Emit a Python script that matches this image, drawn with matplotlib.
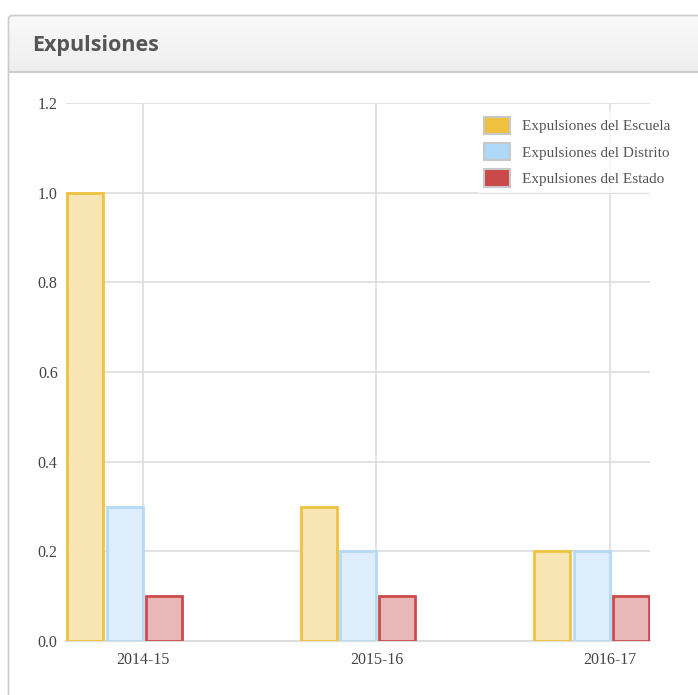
import matplotlib
matplotlib.use("Agg")
import matplotlib.pyplot as plt
from matplotlib.patches import Rectangle, FancyBboxPatch
import numpy as np

categories = ["2014-15", "2015-16", "2016-17"]
series_names = ["Expulsiones del Escuela", "Expulsiones del Distrito", "Expulsiones del Estado"]
escuela = [1.0, 0.3, 0.2]
distrito = [0.3, 0.2, 0.2]
estado = [0.1, 0.1, 0.1]
yticks = [0.0, 0.2, 0.4, 0.6, 0.8, 1.0, 1.2]

fills = ["#F7E6B3", "#DDEDFB", "#E9B7B8"]
edges = ["#EFC340", "#B5DAF6", "#CC4C4C"]
solid = ["#EFC13F", "#AED8F7", "#CC4949"]

W, H = 698, 695
fig = plt.figure(figsize=(W / 100, H / 100), dpi=100)
fig.patch.set_facecolor("white")

# panel
panel_ax = fig.add_axes([0, 0, 1, 1])
panel_ax.set_xlim(0, W)
panel_ax.set_ylim(H, 0)
panel_ax.axis("off")
grad = np.linspace(0, 1, 64).reshape(-1, 1)
panel_ax.imshow(grad, extent=[9, W + 5, 72, 16],
                cmap=matplotlib.colors.LinearSegmentedColormap.from_list("g", ["#FAFAFA", "#EEEEEE"]),
                aspect="auto", zorder=1)
panel_ax.add_patch(FancyBboxPatch((8.5, 15.5), W + 20, H + 20, boxstyle="round,pad=0,rounding_size=4",
                                  facecolor="none", edgecolor="#CCCCCC", lw=1.2, zorder=3))
panel_ax.plot([9, W], [72, 72], color="#CCCCCC", lw=1.5, zorder=3)
panel_ax.text(32, 46, "Expulsiones", fontsize=15.5, fontweight="bold", color="#555555",
              family="Open Sans", va="center", ha="left", zorder=4)

ax = fig.add_axes([66 / W, 1 - 641 / H, (650 - 66) / W, (641 - 103) / H])
ax.set_facecolor("none")
bw = 0.154
offs = [0.0, 0.171, 0.338]
x = np.arange(len(categories))
for k, vals in enumerate([escuela, distrito, estado]):
    ax.bar(x + offs[k], vals, width=bw, align="edge", color=fills[k],
           edgecolor=edges[k], linewidth=2, zorder=3)

ax.set_xlim(-0.004, 2.496)
ax.set_ylim(0, 1.2)
ax.set_yticks(yticks)
ax.set_yticklabels([f"{v:.1f}" for v in yticks])
ax.set_xticks(x + 0.325)
ax.set_xticklabels(categories)
ax.grid(True, color="#DDDDDD", lw=1.2, zorder=0)
for s in ["top", "right", "left"]:
    ax.spines[s].set_visible(False)
ax.spines["bottom"].set_color("#DDDDDD")
ax.spines["bottom"].set_linewidth(1.5)
ax.tick_params(axis="x", length=0, labelsize=11.5, labelcolor="#444444", pad=8)
ax.tick_params(axis="y", length=0, labelsize=11.5, labelcolor="#444444", pad=6)
for lab in ax.get_xticklabels() + ax.get_yticklabels():
    lab.set_family("Liberation Serif")

# legend
handles = [Rectangle((0, 0), 1, 1, facecolor=solid[k], edgecolor="#C8C8C8", lw=1.5) for k in range(3)]
leg = fig.legend(handles, series_names, loc="upper left", bbox_to_anchor=(470 / W, 1 - 103 / H),
                 prop={"family": "Liberation Serif", "size": 11}, frameon=True,
                 handlelength=1.75, handleheight=1.35, labelspacing=0.6, handletextpad=0.75,
                 borderpad=0.4, fancybox=False)
leg.get_frame().set_facecolor("white")
leg.get_frame().set_alpha(0.75)
leg.get_frame().set_edgecolor("none")
for t in leg.get_texts():
    t.set_color("#555555")

fig.savefig("out.png", dpi=100)
